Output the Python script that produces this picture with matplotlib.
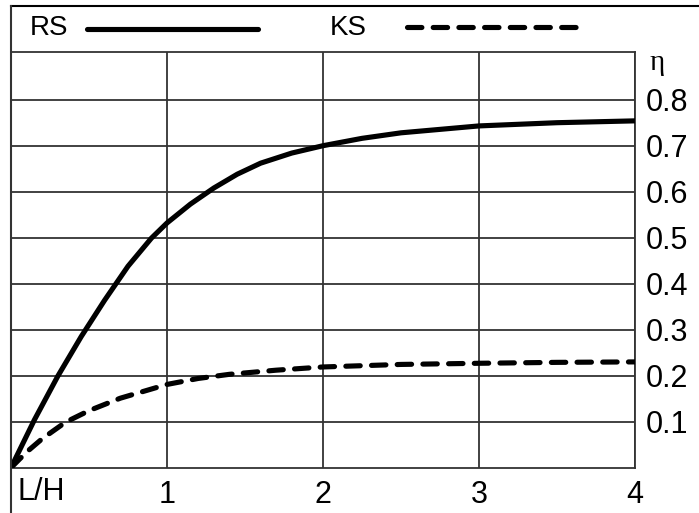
import matplotlib
matplotlib.use("Agg")
import matplotlib.pyplot as plt
from matplotlib.lines import Line2D

plt.rcParams['font.family'] = ['Liberation Sans', 'DejaVu Sans']

# Data
rs_x = [0, 0.15, 0.3, 0.45, 0.6, 0.75, 0.9, 1.0, 1.15, 1.3, 1.45, 1.6, 1.8, 2.0, 2.25, 2.5, 3.0, 3.5, 4.0]
rs_y = [0, 0.104, 0.199, 0.285, 0.364, 0.438, 0.499, 0.532, 0.573, 0.608, 0.638, 0.662, 0.684,
        0.700, 0.716, 0.728, 0.743, 0.750, 0.754]
ks_x = [0, 0.1, 0.2, 0.35, 0.5, 0.7, 1.0, 1.2, 1.4, 1.7, 2.0, 2.5, 3.0, 3.5, 4.0]
ks_y = [0, 0.034, 0.063, 0.099, 0.124, 0.151, 0.181, 0.194, 0.203, 0.212, 0.219, 0.2245, 0.227, 0.229, 0.230]
y_ticks = [0.1, 0.2, 0.3, 0.4, 0.5, 0.6, 0.7, 0.8]
y_tick_labels = ['0.1', '0.2', '0.3', '0.4', '0.5', '0.6', '0.7', '0.8']
x_ticks = [1, 2, 3, 4]
x_tick_labels = ['1', '2', '3', '4']
series_names = ['RS', 'KS']

W, H = 699, 513
fig = plt.figure(figsize=(W / 100, H / 100), dpi=100)

def fx(px):
    return px / W

def fy(py):
    return 1 - py / H

left, right, bottom, top = 11, 635, 467.7, 52
ax = fig.add_axes([fx(left), fy(bottom), fx(right) - fx(left), fy(top) - fy(bottom)])
ax.set_xlim(0, 4)
ax.set_ylim(0, (bottom - top) / 460 * 1.0)

gridc = '#333333'
for s in ax.spines.values():
    s.set_color(gridc)
    s.set_linewidth(1.3)

ax.set_yticks(y_ticks)
ax.set_yticklabels(y_tick_labels)
ax.set_xticks(x_ticks)
ax.set_xticklabels(x_tick_labels)
ax.yaxis.tick_right()
ax.tick_params(axis='y', length=0, pad=8, labelsize=22)
ax.tick_params(axis='x', length=0, pad=9, labelsize=22)
ax.grid(True, color=gridc, linewidth=1.3)
ax.set_axisbelow(True)

LW = 3.7
DASH = (2.8, 2.2)
ax.plot(rs_x, rs_y, color='black', lw=LW, solid_capstyle='round', solid_joinstyle='round', zorder=3)
ax.plot(ks_x, ks_y, color='black', lw=LW, dashes=DASH, dash_capstyle='round',
        dash_joinstyle='round', zorder=3)

# frame lines (top & left)
fig.add_artist(Line2D([fx(10.5), 1.0], [fy(5.5), fy(5.5)], color='black', lw=1.5))
fig.add_artist(Line2D([fx(11), fx(11)], [fy(5.5), 0], color=gridc, lw=1.5))

# legend row
fig.text(fx(30), fy(28), series_names[0], fontsize=20, va='center', ha='left')
fig.add_artist(Line2D([fx(87), fx(258)], [fy(29), fy(29)], color='black', lw=LW, solid_capstyle='round'))
fig.text(fx(330), fy(28), series_names[1], fontsize=20, va='center', ha='left')
fig.add_artist(Line2D([fx(407), fx(576)], [fy(27), fy(27)], color='black', lw=LW,
                      dashes=DASH, dash_capstyle='round'))

# axis names
fig.text(fx(650), fy(63), 'η', fontsize=21, va='center', ha='left',
         family=['Liberation Serif', 'DejaVu Serif'])
fig.text(fx(18), fy(492), 'L/H', fontsize=22, va='center', ha='left')

fig.savefig('out.png', dpi=100)
